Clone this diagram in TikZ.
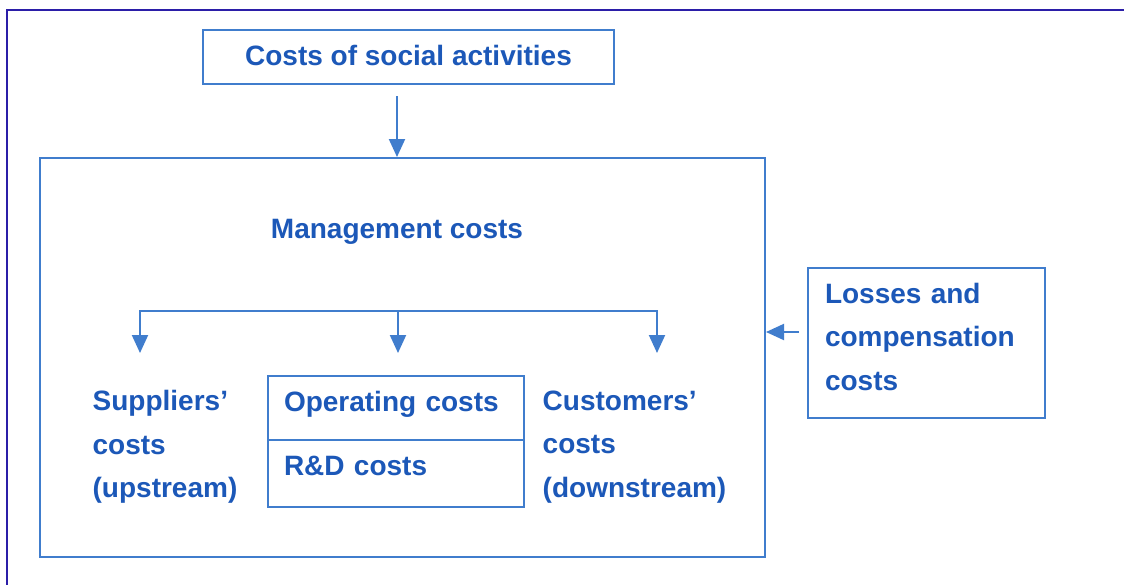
\documentclass[tikz,border=0pt]{standalone}
\usepackage{fontspec}
\setmainfont{Liberation Sans}
\usepackage{tikz}
\usetikzlibrary{arrows.meta}

\definecolor{framecol}{RGB}{43,30,168}
\definecolor{boxcol}{RGB}{64,125,205}
\definecolor{textcol}{RGB}{28,88,184}

\begin{document}
\begin{tikzpicture}[x=0.5pt, y=-0.5pt,
                    font=\fontsize{14}{21.75}\selectfont\bfseries,
                    box/.style={draw=boxcol, line width=1pt, text=textcol, inner sep=0pt},
                    lbl/.style={text=textcol, align=left, inner sep=0pt},
                    arr/.style={draw=boxcol, line width=1pt, -{Triangle[width=8pt,length=9pt]}}]
                    % 画布范围与外框线
                    \useasboundingbox (0,0) rectangle (1124,585);
                    \fill[white] (0,0) rectangle (1124,585);
                    \draw[framecol, line width=1pt] (1124,10) -- (7,10) -- (7,585);

                    % 顶部方框
                    \node[box, minimum width=205.5pt, minimum height=27pt, text depth=2pt] (social) at (408.5,57) {Costs of social activities};

                    % 管理成本大框
                    \node[box, minimum width=362.5pt, minimum height=199.5pt] (mgmt) at (402.5,357.5) {};
                    \node[lbl] (mgmtlabel) at (397,232) {Management costs};

                    % 分支箭头
                    \coordinate (split) at (398,311);
                    \coordinate (tipl) at (140,353);
                    \coordinate (tipm) at (398,353);
                    \coordinate (tipr) at (657,353);
                    \draw[arr] (split) -| (tipl);
                    \draw[arr] (split) -- (tipm);
                    \draw[arr] (split) -| (tipr);

                    % 三类成本
                    \node[lbl] (suppliers) at (165,447) {Suppliers'\\costs\\(upstream)};
                    \node[box, minimum width=128pt, minimum height=32pt, inner xsep=8pt,
                          text width=112pt, align=left, text height=10pt, text depth=7pt] (oper) at (396,408) {Operating costs};
                    \node[box, minimum width=128pt, minimum height=33.5pt, inner xsep=8pt,
                          text width=112pt, align=left, text height=10pt, text depth=8.5pt] (rd) at (396,473.5) {R\&D costs};
                    \node[lbl] (customers) at (634.5,447) {Customers'\\costs\\(downstream)};

                    % 右侧损失与赔偿
                    \node[box, minimum height=75pt, inner xsep=8.5pt, text width=101.5pt, align=left,
                          text depth=50pt] (losses) at (926.5,343) {Losses and\\compensation\\costs};

                    % 连接箭头
                    \draw[arr, shorten <=5.5pt] (social.south -| mgmtlabel) -- (mgmt.north -| mgmtlabel);
                    \draw[arr, shorten <=4pt] ([yshift=5.5pt]losses.west) -- ([yshift=5.5pt]losses.west -| mgmt.east);
                \end{tikzpicture}
\end{document}
